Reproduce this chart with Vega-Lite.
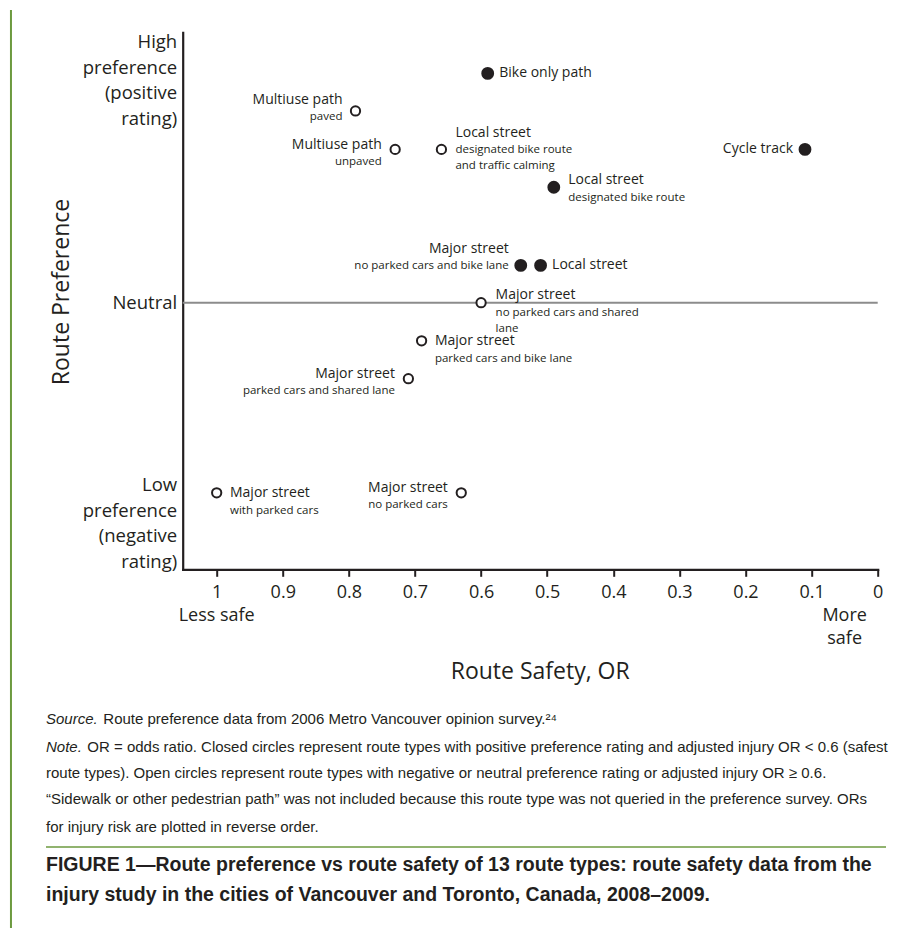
{
  "$schema": "https://vega.github.io/schema/vega-lite/v6.json",
  "width": 695,
  "height": 537,
  "autosize": {"type": "none"},
  "padding": {"left": 182.7, "top": 32.3, "right": 40.3, "bottom": 358.7},
  "background": "white",
  "config": {"view": {"stroke": null}, "font": "Open Sans"},
  "data": {
    "values": [
      {"name": "Bike only path", "detail": "", "or": 0.59, "pref": 0.848, "circle": "Closed", "label_pos": "right"},
      {"name": "Multiuse path", "detail": "paved", "or": 0.79, "pref": 0.709, "circle": "Open", "label_pos": "left-high"},
      {"name": "Multiuse path", "detail": "unpaved", "or": 0.73, "pref": 0.567, "circle": "Open", "label_pos": "left-mid"},
      {"name": "Local street", "detail": "designated bike route\nand traffic calming", "or": 0.66, "pref": 0.567, "circle": "Open", "label_pos": "right-above"},
      {"name": "Cycle track", "detail": "", "or": 0.11, "pref": 0.567, "circle": "Closed", "label_pos": "left"},
      {"name": "Local street", "detail": "designated bike route", "or": 0.49, "pref": 0.427, "circle": "Closed", "label_pos": "right-mid"},
      {"name": "Major street", "detail": "no parked cars and bike lane", "or": 0.54, "pref": 0.138, "circle": "Closed", "label_pos": "left-above"},
      {"name": "Local street", "detail": "", "or": 0.51, "pref": 0.138, "circle": "Closed", "label_pos": "right"},
      {"name": "Major street", "detail": "no parked cars and shared\nlane", "or": 0.6, "pref": 0.0, "circle": "Open", "label_pos": "right-mid"},
      {"name": "Major street", "detail": "parked cars and bike lane", "or": 0.69, "pref": -0.141, "circle": "Open", "label_pos": "right-below"},
      {"name": "Major street", "detail": "parked cars and shared lane", "or": 0.71, "pref": -0.281, "circle": "Open", "label_pos": "left-mid"},
      {"name": "Major street", "detail": "with parked cars", "or": 1.0, "pref": -0.703, "circle": "Open", "label_pos": "right-below"},
      {"name": "Major street", "detail": "no parked cars", "or": 0.63, "pref": -0.703, "circle": "Open", "label_pos": "left-mid"}
    ]
  },
  "layer": [
    {
      "data": {"values": [{"line": "neutral"}]},
      "mark": {"type": "rule", "color": "#8c8c8c", "strokeWidth": 2},
      "encoding": {"y": {"datum": 0, "type": "quantitative"}}
    },
    {
      "mark": {"type": "circle", "stroke": "#231f20", "strokeWidth": 2, "opacity": 1},
      "encoding": {
        "x": {
          "field": "or", "type": "quantitative",
          "scale": {"domain": [0, 1.0514], "reverse": true, "nice": false, "zero": false},
          "axis": {
            "values": [0, 0.1, 0.2, 0.3, 0.4, 0.5, 0.6, 0.7, 0.8, 0.9, 1],
            "labelExpr": "format(datum.value, '~g')",
            "grid": false, "domainColor": "#231f20", "domainWidth": 2.2, "domainCap": "square",
            "tickColor": "#231f20", "tickWidth": 2, "tickSize": 7,
            "labelFont": "Open Sans", "labelFontSize": 18, "labelColor": "#231f20", "labelPadding": 7.5,
            "labelFlush": false, "labelOverlap": false, "labelBound": false,
            "title": "Route Safety, OR", "titleFont": "Open Sans", "titleFontSize": 23, "titleFontWeight": "normal",
            "titleColor": "#231f20", "titleX": 357, "titleY": 109, "titleBaseline": "alphabetic"
          }
        },
        "y": {
          "field": "pref", "type": "quantitative",
          "scale": {"domain": [-0.986, 1], "nice": false, "zero": false},
          "axis": {
            "values": [-0.6742, 0, 0.9652],
            "labelExpr": "datum.value > 0.5 ? ['High\u00a0', 'preference', '(positive\u00a0', 'rating)\u00a0'] : datum.value < -0.5 ? ['Low\u00a0', 'preference', '(negative', 'rating)'] : 'Neutral'",
            "ticks": false, "tickSize": 0, "grid": false,
            "domainColor": "#231f20", "domainWidth": 2.2, "domainCap": "square",
            "labelFont": "Open Sans", "labelFontSize": 18.5, "labelColor": "#231f20", "labelLineHeight": 25.5,
            "labelPadding": 6, "labelOverlap": false, "labelBound": false, "labelFlush": false,
            "title": "Route Preference", "titleFont": "Open Sans", "titleFontSize": 23, "titleFontWeight": "normal",
            "titleColor": "#231f20", "titleX": -121.7, "titleY": 259.2, "titleBaseline": "middle"
          }
        },
        "fill": {"field": "circle", "type": "nominal", "scale": {"domain": ["Closed", "Open"], "range": ["#231f20", "#ffffff"]}, "legend": null},
        "size": {"field": "circle", "type": "ordinal", "scale": {"domain": ["Closed", "Open"], "range": [117, 86]}, "legend": null}
      }
    },
    {
      "transform": [{"filter": "datum.label_pos == 'right'"}],
      "mark": {"type": "text", "align": "left", "baseline": "top", "dx": 11.5, "dy": -6.9, "font": "Open Sans", "fontSize": 14, "color": "#231f20"},
      "encoding": {"x": {"field": "or", "type": "quantitative"}, "y": {"field": "pref", "type": "quantitative"}, "text": {"field": "name"}}
    },
    {
      "transform": [{"filter": "datum.label_pos == 'left'"}],
      "mark": {"type": "text", "align": "right", "baseline": "top", "dx": -12, "dy": -6.9, "font": "Open Sans", "fontSize": 14, "color": "#231f20"},
      "encoding": {"x": {"field": "or", "type": "quantitative"}, "y": {"field": "pref", "type": "quantitative"}, "text": {"field": "name"}}
    },
    {
      "transform": [{"filter": "datum.label_pos == 'right-below'"}],
      "mark": {"type": "text", "align": "left", "baseline": "top", "dx": 13.3, "dy": -6.9, "font": "Open Sans", "fontSize": 14, "color": "#231f20"},
      "encoding": {"x": {"field": "or", "type": "quantitative"}, "y": {"field": "pref", "type": "quantitative"}, "text": {"field": "name"}}
    },
    {
      "transform": [{"filter": "datum.label_pos == 'right-below'"}],
      "mark": {"type": "text", "align": "left", "baseline": "top", "dx": 13.3, "dy": 11.9, "font": "Open Sans", "fontSize": 11.5, "color": "#231f20", "lineBreak": "\n", "lineHeight": 16.5},
      "encoding": {"x": {"field": "or", "type": "quantitative"}, "y": {"field": "pref", "type": "quantitative"}, "text": {"field": "detail"}}
    },
    {
      "transform": [{"filter": "datum.label_pos == 'right-mid'"}],
      "mark": {"type": "text", "align": "left", "baseline": "top", "dx": 14.5, "dy": -14.6, "font": "Open Sans", "fontSize": 14, "color": "#231f20"},
      "encoding": {"x": {"field": "or", "type": "quantitative"}, "y": {"field": "pref", "type": "quantitative"}, "text": {"field": "name"}}
    },
    {
      "transform": [{"filter": "datum.label_pos == 'right-mid'"}],
      "mark": {"type": "text", "align": "left", "baseline": "top", "dx": 14.5, "dy": 4.3, "font": "Open Sans", "fontSize": 11.5, "color": "#231f20", "lineBreak": "\n", "lineHeight": 16},
      "encoding": {"x": {"field": "or", "type": "quantitative"}, "y": {"field": "pref", "type": "quantitative"}, "text": {"field": "detail"}}
    },
    {
      "transform": [{"filter": "datum.label_pos == 'right-above'"}],
      "mark": {"type": "text", "align": "left", "baseline": "top", "dx": 14, "dy": -22.9, "font": "Open Sans", "fontSize": 14, "color": "#231f20"},
      "encoding": {"x": {"field": "or", "type": "quantitative"}, "y": {"field": "pref", "type": "quantitative"}, "text": {"field": "name"}}
    },
    {
      "transform": [{"filter": "datum.label_pos == 'right-above'"}],
      "mark": {"type": "text", "align": "left", "baseline": "top", "dx": 14, "dy": -5.6, "font": "Open Sans", "fontSize": 11.5, "color": "#231f20", "lineBreak": "\n", "lineHeight": 16.7},
      "encoding": {"x": {"field": "or", "type": "quantitative"}, "y": {"field": "pref", "type": "quantitative"}, "text": {"field": "detail"}}
    },
    {
      "transform": [{"filter": "datum.label_pos == 'left-high'"}],
      "mark": {"type": "text", "align": "right", "baseline": "top", "dx": -13, "dy": -17.9, "font": "Open Sans", "fontSize": 14, "color": "#231f20"},
      "encoding": {"x": {"field": "or", "type": "quantitative"}, "y": {"field": "pref", "type": "quantitative"}, "text": {"field": "name"}}
    },
    {
      "transform": [{"filter": "datum.label_pos == 'left-high'"}],
      "mark": {"type": "text", "align": "right", "baseline": "top", "dx": -13, "dy": 0.1, "font": "Open Sans", "fontSize": 11.5, "color": "#231f20"},
      "encoding": {"x": {"field": "or", "type": "quantitative"}, "y": {"field": "pref", "type": "quantitative"}, "text": {"field": "detail"}}
    },
    {
      "transform": [{"filter": "datum.label_pos == 'left-mid'"}],
      "mark": {"type": "text", "align": "right", "baseline": "top", "dx": -13.4, "dy": -11.4, "font": "Open Sans", "fontSize": 14, "color": "#231f20"},
      "encoding": {"x": {"field": "or", "type": "quantitative"}, "y": {"field": "pref", "type": "quantitative"}, "text": {"field": "name"}}
    },
    {
      "transform": [{"filter": "datum.label_pos == 'left-mid'"}],
      "mark": {"type": "text", "align": "right", "baseline": "top", "dx": -13.4, "dy": 6.5, "font": "Open Sans", "fontSize": 11.5, "color": "#231f20"},
      "encoding": {"x": {"field": "or", "type": "quantitative"}, "y": {"field": "pref", "type": "quantitative"}, "text": {"field": "detail"}}
    },
    {
      "transform": [{"filter": "datum.label_pos == 'left-above'"}],
      "mark": {"type": "text", "align": "right", "baseline": "top", "dx": -12, "dy": -22.9, "font": "Open Sans", "fontSize": 14, "color": "#231f20"},
      "encoding": {"x": {"field": "or", "type": "quantitative"}, "y": {"field": "pref", "type": "quantitative"}, "text": {"field": "name"}}
    },
    {
      "transform": [{"filter": "datum.label_pos == 'left-above'"}],
      "mark": {"type": "text", "align": "right", "baseline": "top", "dx": -12, "dy": -5.6, "font": "Open Sans", "fontSize": 11.5, "color": "#231f20"},
      "encoding": {"x": {"field": "or", "type": "quantitative"}, "y": {"field": "pref", "type": "quantitative"}, "text": {"field": "detail"}}
    },
    {
      "data": {"values": [{"text": "Less safe"}]},
      "mark": {"type": "text", "align": "center", "baseline": "top", "font": "Open Sans", "fontSize": 18, "color": "#231f20"},
      "encoding": {"x": {"datum": 1.0, "type": "quantitative"}, "y": {"datum": -1.1269, "type": "quantitative"}, "text": {"field": "text"}}
    },
    {
      "data": {"values": [{"text": "More\nsafe"}]},
      "mark": {"type": "text", "align": "center", "baseline": "top", "font": "Open Sans", "fontSize": 18, "color": "#231f20", "lineBreak": "\n", "lineHeight": 23},
      "encoding": {"x": {"datum": 0.05, "type": "quantitative"}, "y": {"datum": -1.1269, "type": "quantitative"}, "text": {"field": "text"}}
    },
    {
      "data": {"values": [{"line": "left border"}]},
      "mark": {"type": "rule", "color": "#6c9a3f", "strokeWidth": 2},
      "encoding": {"x": {"datum": 1.3112, "type": "quantitative"}, "y": {"datum": 1.0825, "type": "quantitative"}, "y2": {"datum": -2.3125}}
    },
    {
      "data": {"values": [{"line": "separator"}]},
      "mark": {"type": "rule", "color": "#6c9a3f", "strokeWidth": 1.5},
      "encoding": {"x": {"datum": 1.2582, "type": "quantitative"}, "x2": {"datum": -0.01256}, "y": {"datum": -2.0129, "type": "quantitative"}}
    },
    {
      "data": {"values": [{"text": "Source."}]},
      "mark": {"type": "text", "align": "left", "baseline": "middle", "font": "Liberation Sans", "fontStyle": "italic", "fontSize": 15, "color": "#231f20"},
      "encoding": {"x": {"datum": 1.2582, "type": "quantitative"}, "y": {"datum": -1.5407, "type": "quantitative"}, "text": {"field": "text"}}
    },
    {
      "data": {"values": [{"text": "Route preference data from 2006 Metro Vancouver opinion survey.²⁴"}]},
      "mark": {"type": "text", "align": "left", "baseline": "middle", "dx": 57.3, "font": "Liberation Sans", "fontSize": 15, "color": "#231f20"},
      "encoding": {"x": {"datum": 1.2582, "type": "quantitative"}, "y": {"datum": -1.5407, "type": "quantitative"}, "text": {"field": "text"}}
    },
    {
      "data": {"values": [{"text": "Note."}]},
      "mark": {"type": "text", "align": "left", "baseline": "middle", "font": "Liberation Sans", "fontStyle": "italic", "fontSize": 15, "color": "#231f20"},
      "encoding": {"x": {"datum": 1.2582, "type": "quantitative"}, "y": {"datum": -1.642, "type": "quantitative"}, "text": {"field": "text"}}
    },
    {
      "data": {"values": [{"text": "OR = odds ratio. Closed circles represent route types with positive preference rating and adjusted injury OR < 0.6 (safest"}]},
      "mark": {"type": "text", "align": "left", "baseline": "middle", "dx": 41.3, "font": "Liberation Sans", "fontSize": 15, "color": "#231f20"},
      "encoding": {"x": {"datum": 1.2582, "type": "quantitative"}, "y": {"datum": -1.642, "type": "quantitative"}, "text": {"field": "text"}}
    },
    {
      "data": {"values": [{"text": "route types). Open circles represent route types with negative or neutral preference rating or adjusted injury OR ≥ 0.6."}]},
      "mark": {"type": "text", "align": "left", "baseline": "middle", "font": "Liberation Sans", "fontSize": 15, "color": "#231f20"},
      "encoding": {"x": {"datum": 1.2582, "type": "quantitative"}, "y": {"datum": -1.7404, "type": "quantitative"}, "text": {"field": "text"}}
    },
    {
      "data": {"values": [{"text": "“Sidewalk or other pedestrian path” was not included because this route type was not queried in the preference survey. ORs"}]},
      "mark": {"type": "text", "align": "left", "baseline": "middle", "font": "Liberation Sans", "fontSize": 15, "color": "#231f20"},
      "encoding": {"x": {"datum": 1.2582, "type": "quantitative"}, "y": {"datum": -1.8365, "type": "quantitative"}, "text": {"field": "text"}}
    },
    {
      "data": {"values": [{"text": "for injury risk are plotted in reverse order."}]},
      "mark": {"type": "text", "align": "left", "baseline": "middle", "font": "Liberation Sans", "fontSize": 15, "color": "#231f20"},
      "encoding": {"x": {"datum": 1.2582, "type": "quantitative"}, "y": {"datum": -1.9379, "type": "quantitative"}, "text": {"field": "text"}}
    },
    {
      "data": {"values": [{"text": "FIGURE 1—Route preference vs route safety of 13 route types: route safety data from the"}]},
      "mark": {"type": "text", "align": "left", "baseline": "middle", "font": "Liberation Sans", "fontWeight": "bold", "fontSize": 19.5, "color": "#231f20"},
      "encoding": {"x": {"datum": 1.2582, "type": "quantitative"}, "y": {"datum": -2.0795, "type": "quantitative"}, "text": {"field": "text"}}
    },
    {
      "data": {"values": [{"text": "injury study in the cities of Vancouver and Toronto, Canada, 2008–2009."}]},
      "mark": {"type": "text", "align": "left", "baseline": "middle", "font": "Liberation Sans", "fontWeight": "bold", "fontSize": 19.5, "color": "#231f20"},
      "encoding": {"x": {"datum": 1.2582, "type": "quantitative"}, "y": {"datum": -2.1923, "type": "quantitative"}, "text": {"field": "text"}}
    }
  ]
}
